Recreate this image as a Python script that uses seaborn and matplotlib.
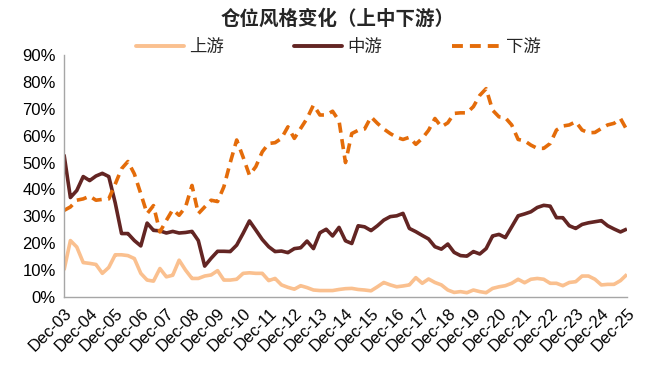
import pandas as pd
import seaborn as sns
import matplotlib.pyplot as plt
import matplotlib.dates as mdates
from matplotlib.ticker import FuncFormatter

# Data (quarter-end values, %)
quarters = pd.date_range('2003-12-31', '2025-12-31', freq='QE')

upstream = [10, 21, 18.6, 12.8, 12.5, 12.1, 8.8, 11, 15.7, 15.7, 15.4, 14.3, 8.8,
            6.3, 5.9, 10.6, 7.5, 8.1, 13.7, 10, 6.9, 6.9, 7.8, 8.2, 9.8, 6.3,
            6.3, 6.6, 8.8, 9, 8.8, 8.8, 6.1, 6.9, 4.5, 3.6, 2.9, 4.2, 3.5, 2.6,
            2.4, 2.4, 2.4, 2.8, 3.1, 3.2, 2.8, 2.6, 2.3, 3.8, 5.4, 4.5, 3.8, 4.1,
            4.5, 7.2, 5.1, 6.7, 5.4, 4.5, 2.6, 1.7, 2, 1.6, 2.6, 2, 1.6, 3.2,
            3.8, 4.2, 5.1, 6.6, 5.3, 6.6, 6.9, 6.6, 5.1, 5.1, 4.2, 5.4, 5.7, 7.8,
            7.8, 6.6, 4.5, 4.7, 4.7, 6.1, 8.4]

midstream = [53, 37, 39.6, 44.8, 43.3, 45, 46, 44.8, 35, 23.6, 23.6, 21, 19,
             27.5, 24.8, 24.6, 23.8, 24.4, 23.8, 24, 24.4, 21, 11.5, 14.4, 17,
             17, 16.9, 19.3, 23.7, 28.3, 24.9, 21.4, 18.7, 16.9, 17.1, 16.5, 18,
             18.3, 20.8, 18, 23.9, 25.2, 22.7, 25.9, 20.9, 19.9, 26.5, 26.1, 24.7,
             26.5, 28.6, 29.9, 30.2, 31.1, 25.5, 24.3, 22.9, 21.6, 18.7, 17.8,
             19.7, 16.6, 15.4, 15.2, 16.9, 16, 18, 22.7, 23.3, 22.1, 26.1, 30.2,
             30.9, 31.7, 33.3, 34.1, 33.8, 29.5, 29.5, 26.5, 25.5, 27, 27.6, 28,
             28.4, 26.5, 25.3, 24.2, 25.3]

downstream = [32.2, 33.5, 36, 36.5, 37.5, 36, 36.3, 36.5, 42, 47.7, 50.4, 45.8,
              38.4, 31, 34, 24.2, 28.5, 32.5, 30.4, 33.5, 41.5, 31, 33.5, 36,
              35.5, 41, 50, 58.4, 52, 45.3, 48.5, 54, 57.1, 57.4, 59, 63.3, 59,
              62.7, 66.4, 71.4, 67.7, 67.7, 69.1, 65.5, 50, 60.8, 62, 62.5, 67,
              64.6, 62.5, 60.8, 59.4, 58.6, 59.4, 56.8, 59, 62, 66.4, 63.3, 64.8,
              68.3, 68.5, 68.5, 70.8, 75, 77.5, 69.5, 67, 66.7, 64, 58.6, 58.1,
              56.5, 55.3, 55.3, 57.1, 62.1, 63.6, 64, 65.2, 62.1, 61.1, 61.2,
              62.7, 64, 64.6, 66.4, 62.1]

series_names = ['上游', '中游', '下游']
colors = ['#FAC08F', '#632523', '#E46C0A']

df = pd.DataFrame({'date': quarters, '上游': upstream, '中游': midstream, '下游': downstream})
long_df = df.melt(id_vars='date', var_name='series', value_name='value')

sns.set_style('white')
plt.rcParams['font.family'] = ['Liberation Sans', 'Noto Sans CJK SC']

fig = plt.figure(figsize=(6.5, 3.77), dpi=100)
ax = fig.add_axes([0.0985, 0.2122, 0.866, 0.6418])

sns.lineplot(data=long_df, x='date', y='value', hue='series', style='series',
             hue_order=series_names, style_order=series_names,
             palette=colors, dashes=[(1, 0), (1, 0), (2.8, 1.8)],
             linewidth=2.6, ax=ax, legend=False)

ax.set_ylim(0, 90)
ax.set_yticks(range(0, 91, 10))
ax.yaxis.set_major_formatter(FuncFormatter(lambda v, p: f'{int(v)}%'))
ax.set_xlim(quarters[0], quarters[-1])
ax.xaxis.set_major_locator(mdates.MonthLocator(bymonth=12, bymonthday=31))
ax.xaxis.set_major_formatter(mdates.DateFormatter('%b-%y'))
ax.set_xlabel('')
ax.set_ylabel('')

for s in ['top', 'right']:
    ax.spines[s].set_visible(False)
for s in ['left', 'bottom']:
    ax.spines[s].set_color('#A6A6A6')
    ax.spines[s].set_linewidth(1.0)
ax.tick_params(axis='both', which='major', direction='out', length=4,
               color='#A6A6A6', labelsize=12, labelcolor='black', pad=2)
plt.setp(ax.get_xticklabels(), rotation=45, ha='right', rotation_mode='anchor')

fig.suptitle('仓位风格变化（上中下游）', x=0.52, y=0.975, fontsize=14, fontweight='bold')

handles = [plt.Line2D([], [], color=colors[0], lw=2.8),
           plt.Line2D([], [], color=colors[1], lw=2.8),
           plt.Line2D([], [], color=colors[2], lw=2.8, dashes=(2.8, 1.8))]
fig.legend(handles, series_names, loc='center', bbox_to_anchor=(0.52, 0.875), ncol=3,
           frameon=False, fontsize=12.5, handlelength=2.8, handletextpad=0.3,
           columnspacing=4.0)

fig.savefig('out.png', dpi=100)
